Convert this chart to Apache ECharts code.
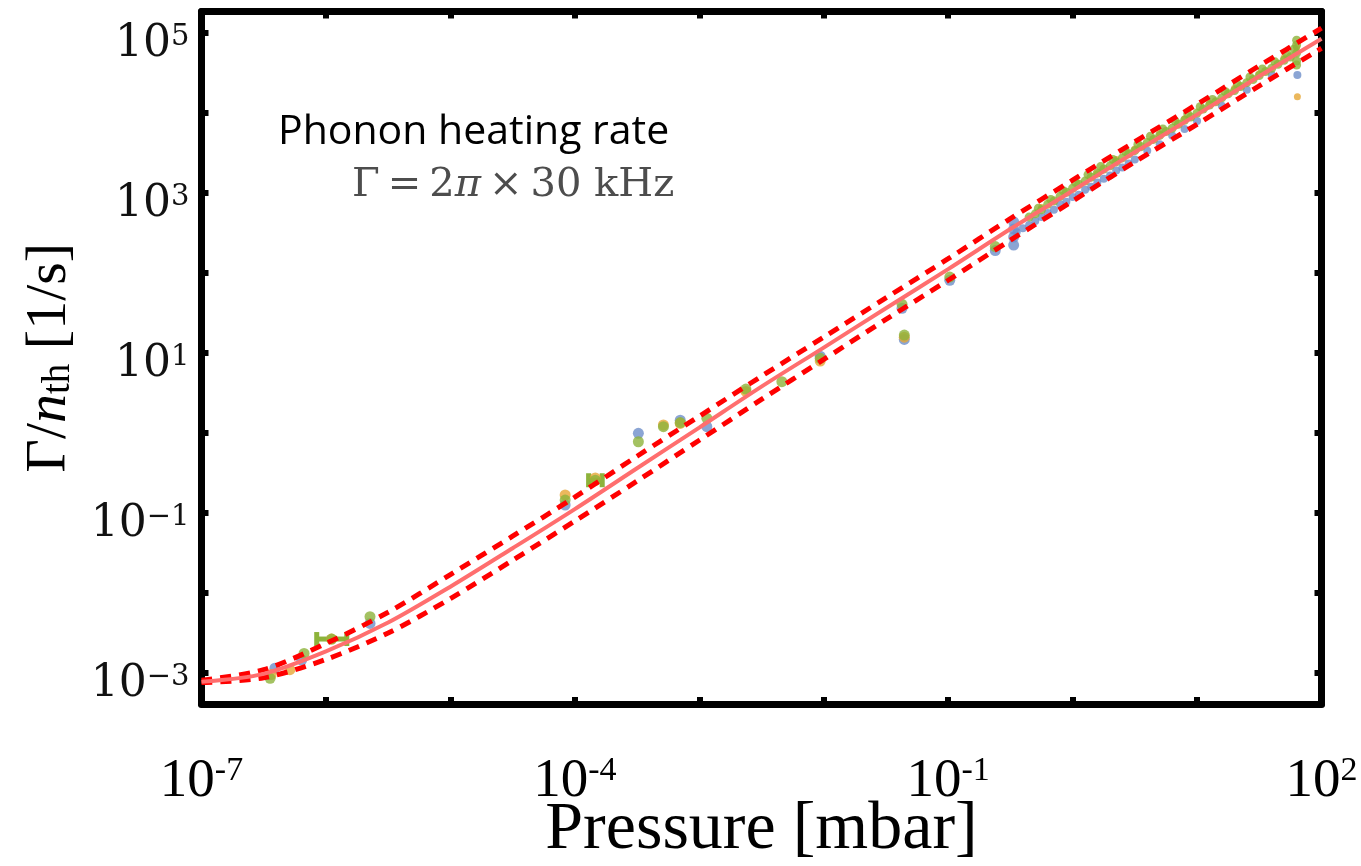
<!DOCTYPE html>
<html><head><meta charset="utf-8">
<script src="https://cdn.jsdelivr.net/npm/echarts@6/dist/echarts.min.js"></script>
<style>html,body{margin:0;padding:0;background:#fff}#c{width:1361px;height:866px}</style>
</head><body><div id="c"></div><script>
// ---- axes (decade exponents) ----
const xRange = [1e-7, 100];
const yRange = [4.1e-4, 1.86e5];
const xTickExps = [-7,-6,-5,-4,-3,-2,-1,0,1,2];
const xLabelExps = [-7,-4,-1,2];
const yTickRange = [1e-3, 1e5];   // decades that carry tick marks
const yLabelExps = [-3,-1,1,3,5];

// ---- model curves (pressure [mbar] -> Gamma/n_th [1/s]) ----
const curveP     = [1e-7,3.16e-7,1e-6,3.16e-6,1e-5,3.16e-5,1e-4,3.16e-4,1e-3,3.16e-3,1e-2,3.16e-2,0.1,0.316,1,3.16,10,31.6,100];
const curveMid   = [7.76e-4,9.77e-4,1.86e-3,4.27e-3,1.20e-2,3.63e-2,0.112,0.363,1.17,3.80,11.7,36.3,112,355,1070,3240,9550,28800,85100];
const curveUpper = [8.13e-4,1.10e-3,2.34e-3,5.75e-3,1.70e-2,5.13e-2,0.158,0.513,1.62,5.13,15.8,49.0,151,479,1450,4370,12900,38900,115000];
const curveLower = [7.59e-4,8.71e-4,1.48e-3,3.16e-3,8.51e-3,2.57e-2,7.94e-2,0.251,0.813,2.63,8.32,26.3,81.3,257,794,2450,7240,21900,64600];

// ---- measured points [pressure, rate] ----
const bluePoints = [[3.89e-7,1.15e-3],[6.38e-7,1.45e-3],[2.26e-6,4.17e-3],[8.36e-5,0.126],[3.24e-4,0.991],[7.03e-4,1.45],[1.15e-3,1.20],[9.37e-3,9.12],[4.26e-2,36.3],[4.44e-2,14.8],[0.103,81.3],[0.239,191],
  [0.336,224],[0.336,282],[0.336,355],[0.336,437]];
const blueBand = [[0.355,324],[0.398,363],[0.447,398],[0.501,447],[0.562,501],[0.631,562],[0.708,617],[0.794,724],[0.891,776],[1.0,891],[1.12,955],[1.26,1100],[1.41,1200],[1.58,1350],[1.78,1510],[2.0,1660],[2.24,1910],[2.51,2090],[2.82,2340],[3.16,2630],[3.98,3390],[5.01,4070],[6.31,5250],[7.94,6310],[10,7940],[15.8,12300],[25.1,19500],[39.8,30200],[64.0,29900]];
const orangePoints = [[3.63e-7,9.55e-4],[5.13e-7,1.10e-3],[1.11e-6,2.66e-3],[8.36e-5,0.168],[1.46e-4,0.275],[5.15e-4,1.26],[7.03e-4,1.32],[2.37e-3,3.31],[9.37e-3,7.94],[4.44e-2,15.8]];
const orangeBand = [[0.562,661],[1.58,1740],[2.24,2630],[3.16,3550],[5.01,5500],[7.94,8510],[12.6,13200],[20.0,20400],[31.6,30900],[50.1,49000],[64.0,16000],[63.1,66100]];
const greenPoints = [[3.56e-7,8.59e-4],[6.67e-7,1.76e-3],[1.11e-6,2.66e-3],[2.26e-6,5.06e-3],[8.36e-5,0.145],[1.46e-4,0.257],[3.24e-4,0.778],[5.15e-4,1.20],[7.03e-4,1.35],[1.15e-3,1.53],[2.37e-3,3.55],[4.61e-3,4.38],[9.37e-3,8.59],[4.26e-2,40.7],[4.44e-2,16.8],[0.103,89.1],[0.239,214]];
const greenBand = [[0.447,501],[0.501,550],[0.562,617],[0.631,724],[0.708,794],[0.794,912],[0.891,1020],[1,1150],[1.12,1290],[1.26,1410],[1.41,1580],[1.58,1780],[1.78,2000],[2.0,2190],[2.24,2450],[2.51,2750],[2.82,3090],[3.16,3390],[3.55,3800],[3.98,4270],[4.47,4680],[5.01,5250],[5.62,5890],[6.31,6460],[7.08,7240],[7.94,8130],[8.91,8910],[10,10000],[11.2,11200],[12.6,12600],[14.1,13800],[15.8,15500],[17.8,17400],[20.0,19100],[22.4,21400],[25.1,24000],[28.2,26300],[31.6,29500],[35.5,33100],[39.8,36300],[44.7,40700],[50.1,45700],[56.2,50100],[63.1,56200],
  [0.531,646],[0.668,832],[0.841,1070],[1.06,1350],[1.33,1700],[1.68,2140],[2.11,2630],[2.66,3310],[3.35,4070],[4.22,5130],[5.31,6310],[6.68,7940],[8.41,9770],[10.6,12000],[13.3,14800],[16.8,18600],[21.1,22900],[26.6,28200],[33.5,35500],[42.2,43700],[53.1,53700],[60.3,63100],[63.1,70800],[63.1,81300],[63.1,44700],[63.1,39800]];
// horizontal error bars [pressure, rate, pLow, pHigh]
const greenXErr = [[1.11e-6,2.66e-3,8.43e-7,1.47e-6],[1.46e-4,0.257,1.29e-4,1.66e-4]];

const L = Math.log10;
const pts = a => a.map(d => [L(d[0]), L(d[1])]);
const curve = ys => curveP.map((p,i) => [L(p), L(ys[i])]);

// layout of the plot frame
const G = {left:201.5, right:39.5, top:11.5, bottom:162};
const H = 866 - G.top - G.bottom;
const yMinL = L(yRange[0]), yMaxL = L(yRange[1]);
const pxPerDec = H / (yMaxL - yMinL);
// sub-grid whose edges sit exactly on the first/last labelled decade (for tick marks)
const G2 = {left:G.left, right:G.right,
  top: G.top + (yMaxL - L(yTickRange[1])) * pxPerDec,
  bottom: G.bottom + (L(yTickRange[0]) - yMinL) * pxPerDec};
const gridBase = {containLabel:false, outerBoundsMode:'none'};

const serif = 'Liberation Serif';
const labelRich = {
  b:{fontFamily:serif,fontSize:55,color:'#000'},
  s:{fontFamily:serif,fontSize:34,color:'#000',verticalAlign:'top'}
};
const yRich = {
  b:{fontFamily:'DejaVu Serif',fontSize:44,color:'#111'},
  s:{fontFamily:'DejaVu Serif',fontSize:29,color:'#111',verticalAlign:'top'}
};
const frame = {show:true,onZero:false,lineStyle:{color:'#000',width:7}};
const tickStyle = {show:true,inside:true,length:7,lineStyle:{color:'#000',width:6}};
const BLUE='#6E8FC9', ORANGE='#E6A634', GREEN='#8DB33B';

const chart = echarts.init(document.getElementById('c'), null, {renderer:'canvas'});
chart.setOption({
  animation:false,
  backgroundColor:'#fff',
  grid:[
    Object.assign({}, gridBase, G),
    Object.assign({}, gridBase, G2)
  ],
  xAxis:[
    {type:'value',gridIndex:0,min:L(xRange[0]),max:L(xRange[1]),position:'bottom',
     axisLine:frame,axisTick:Object.assign({customValues:xTickExps},tickStyle),splitLine:{show:false},
     axisLabel:{customValues:xLabelExps,margin:50,rich:labelRich,
       formatter:v=>'{b|10}{s|'+(v<0?'-':'')+Math.abs(v)+'}'},
     name:'Pressure [mbar]',nameLocation:'middle',nameGap:92,nameMoveOverlap:false,
     nameTextStyle:{fontFamily:serif,fontSize:68,color:'#000'}},
    {type:'value',gridIndex:0,min:L(xRange[0]),max:L(xRange[1]),position:'top',
     axisLine:frame,axisTick:Object.assign({customValues:xTickExps},tickStyle),axisLabel:{show:false},splitLine:{show:false}},
    {type:'value',gridIndex:1,min:L(xRange[0]),max:L(xRange[1]),show:false}
  ],
  yAxis:[
    {type:'value',gridIndex:0,min:yMinL,max:yMaxL,position:'left',
     axisLine:frame,axisTick:{show:false},splitLine:{show:false},
     axisLabel:{customValues:yLabelExps,margin:12,rich:yRich,padding:[24,0,0,0],
       formatter:v=>'{b|10}{s|'+(v<0?'\u2212':'')+Math.abs(v)+'}'},
     name:'{g|\u0393/}{i|n}{t|th}{g| [1/s]}',nameLocation:'middle',nameGap:123,nameRotate:90,nameMoveOverlap:false,
     nameTextStyle:{rich:{
       g:{fontFamily:serif,fontSize:58,color:'#000'},
       i:{fontFamily:serif,fontSize:58,fontStyle:'italic',color:'#000'},
       t:{fontFamily:serif,fontSize:39,color:'#000',verticalAlign:'bottom'}}}},
    {type:'value',gridIndex:0,min:yMinL,max:yMaxL,position:'right',
     axisLine:frame,axisTick:{show:false},axisLabel:{show:false},splitLine:{show:false}},
    {type:'value',gridIndex:1,min:L(yTickRange[0]),max:L(yTickRange[1]),interval:1,position:'left',
     axisLine:{show:false,onZero:false},axisTick:tickStyle,axisLabel:{show:false},splitLine:{show:false}},
    {type:'value',gridIndex:1,min:L(yTickRange[0]),max:L(yTickRange[1]),interval:1,position:'right',
     axisLine:{show:false,onZero:false},axisTick:tickStyle,axisLabel:{show:false},splitLine:{show:false}}
  ],
  series:[
    {type:'scatter',name:'blue',data:pts(bluePoints),symbol:'circle',symbolSize:11,
     itemStyle:{color:BLUE},z:2},
    {type:'scatter',name:'blueBand',data:pts(blueBand),symbol:'circle',symbolSize:8,
     itemStyle:{color:BLUE},z:2},
    {type:'scatter',name:'orange',data:pts(orangePoints),symbol:'circle',symbolSize:11,
     itemStyle:{color:ORANGE},z:2},
    {type:'scatter',name:'orangeBand',data:pts(orangeBand),symbol:'circle',symbolSize:7,
     itemStyle:{color:ORANGE},z:2},
    {type:'scatter',name:'green',data:pts(greenPoints),symbol:'circle',symbolSize:11,
     itemStyle:{color:GREEN},z:2},
    {type:'scatter',name:'greenBand',data:pts(greenBand),symbol:'circle',symbolSize:9,
     itemStyle:{color:GREEN},z:2},
    {type:'custom',name:'greenErr',z:2,
     data:greenXErr.map(d=>[L(d[0]),L(d[1]),L(d[2]),L(d[3])]),
     renderItem:(params,api)=>{
       const a=api.coord([api.value(2),api.value(1)]);
       const b=api.coord([api.value(3),api.value(1)]);
       const st={stroke:GREEN,lineWidth:5};
       return {type:'group',children:[
         {type:'line',shape:{x1:a[0],y1:a[1],x2:b[0],y2:b[1]},style:st},
         {type:'line',shape:{x1:a[0],y1:a[1]-7,x2:a[0],y2:a[1]+7},style:st},
         {type:'line',shape:{x1:b[0],y1:b[1]-7,x2:b[0],y2:b[1]+7},style:st}]};
     }},
    {type:'line',name:'upper',data:curve(curveUpper),showSymbol:false,smooth:0.3,
     lineStyle:{color:'#FF0000',width:5,type:[11,8]},z:4},
    {type:'line',name:'lower',data:curve(curveLower),showSymbol:false,smooth:0.3,
     lineStyle:{color:'#FF0000',width:5,type:[11,8]},z:4},
    {type:'line',name:'model',data:curve(curveMid),showSymbol:false,smooth:0.3,
     lineStyle:{color:'#FF6E6E',width:4},z:5}
  ],
  graphic:[
    {type:'text',left:278,top:112,z:10,
     style:{text:'Phonon heating rate',fontFamily:'Open Sans',fontSize:41,fill:'#000'}},
    {type:'text',left:352,top:166,z:10,
     style:{text:'{a|\u0393\u2009=\u20092}{p|\u03c0}{a|\u2009\u00d7\u200930 kHz}',
       rich:{a:{fontFamily:'DejaVu Serif',fontSize:40,fill:'#4d4d4d',color:'#4d4d4d'},
             p:{fontFamily:'DejaVu Serif',fontSize:40,fontStyle:'italic',fill:'#4d4d4d',color:'#4d4d4d'}}}}
  ]
});
</script></body></html>
